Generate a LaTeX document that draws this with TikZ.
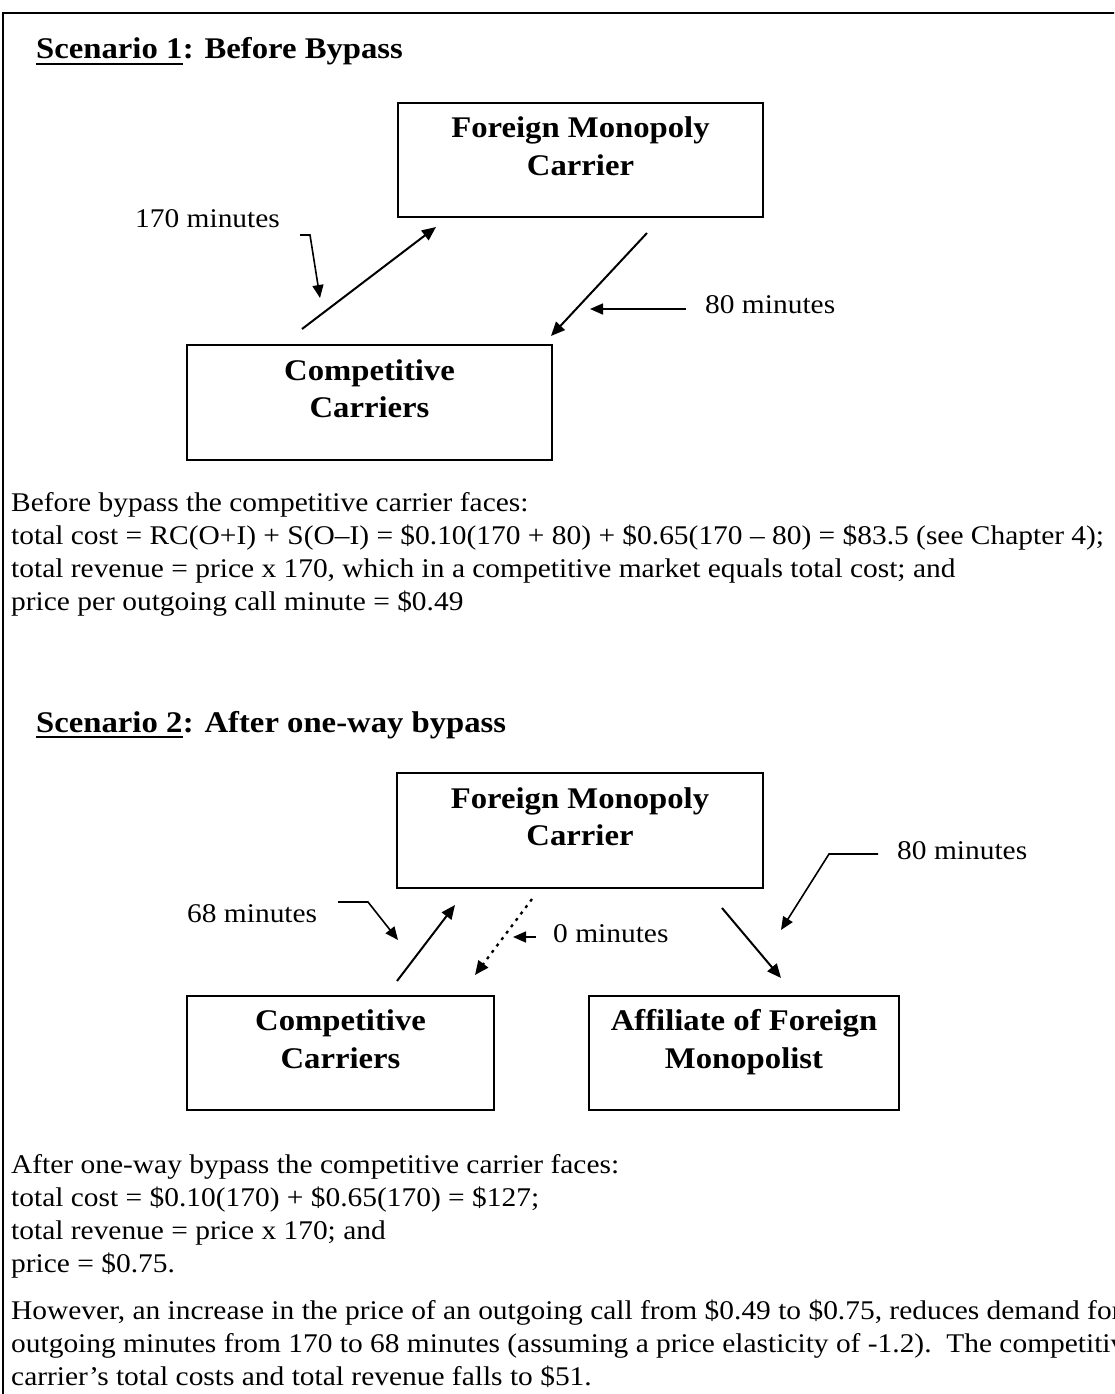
\documentclass[tikz,border=0pt]{standalone}
\usepackage{fontspec}
\setmainfont{Liberation Serif}[FakeStretch=1.09]
\usetikzlibrary{arrows.meta}
\tikzset{
  framestyle/.style={line width=2.5pt},
  box/.style={draw, line width=2pt, inner sep=0pt},
  bt/.style={font=\fontsize{30}{37}\selectfont\bfseries, anchor=base, inner sep=0pt},
  ttl/.style={font=\fontsize{30}{37}\selectfont\bfseries, anchor=base west, inner sep=0pt},
  uline/.style={line width=2.6pt},
  lbl/.style={font=\fontsize{27}{33}\selectfont\frenchspacing, anchor=base west, inner sep=0pt},
  arr/.style={line width=2pt, -{Triangle[length=14pt,width=12pt]}},
  dotarr/.style={line width=2.3pt, dash pattern=on 3pt off 5pt, -{Triangle[length=14pt,width=12pt]}},
  leader/.style={line width=1.6pt, -{Triangle[length=13pt,width=11pt]}}
}
\begin{document}
\begin{tikzpicture}[x=1pt,y=-1pt]
\useasboundingbox (0,0) rectangle (1114,1394);
\clip (0,0) rectangle (1114,1394);
\fill[white] (0,0) rectangle (1114,1394);
\draw[framestyle] (3,1400) -- (3,13) -- (1120,13);

% ---------------- Scenario 1 ----------------
\node[ttl] (t1a) at (36,59) {Scenario 1};
\node[ttl] (t1b) at (t1a.base east) {: Before Bypass};
\draw[uline] ([yshift=-5pt]t1a.base west) -- ([yshift=-5pt]t1a.base east);

\node[box, minimum width=365pt, minimum height=114pt] (fmc1) at (580.5,160) {};
\node[bt] (fmc1a) at (580.5,138) {Foreign Monopoly};
\node[bt] (fmc1b) at (580.5,175) {Carrier};

\node[box, minimum width=365pt, minimum height=115pt] (cc1) at (369.5,402.5) {};
\node[bt] (cc1a) at (369.5,380) {Competitive};
\node[bt] (cc1b) at (369.5,417) {Carriers};

\coordinate (u1s) at (302,329);
\coordinate (u1e) at (436,227);
\coordinate (d1s) at (647,233);
\coordinate (d1e) at (551,336);
\draw[arr] (u1s) -- (u1e);
\draw[arr] (d1s) -- (d1e);

\node[lbl] (l170) at (135,227) {170 minutes};
\coordinate (l170a) at (300,235);
\coordinate (l170b) at (310,235);
\coordinate (l170c) at (320,298);
\draw[leader] (l170a) -- (l170b) -- (l170c);

\node[lbl] (l80a) at (705,313) {80 minutes};
\coordinate (l80s) at (686,309);
\coordinate (l80e) at (590,309);
\draw[leader] (l80s) -- (l80e);

% paragraph 1
\node[lbl] (p1a) at (11,511) {Before bypass the competitive carrier faces:};
\node[lbl] (p1b) at (11,544) {total cost = RC(O+I) + S(O–I) = \$0.10(170 + 80) + \$0.65(170 – 80) = \$83.5 (see Chapter 4);};
\node[lbl] (p1c) at (11,577) {total revenue = price x 170, which in a competitive market equals total cost; and};
\node[lbl] (p1d) at (11,610) {price per outgoing call minute = \$0.49};

% ---------------- Scenario 2 ----------------
\node[ttl] (t2a) at (36,732) {Scenario 2};
\node[ttl] (t2b) at (t2a.base east) {: After one-way bypass};
\draw[uline] ([yshift=-5pt]t2a.base west) -- ([yshift=-5pt]t2a.base east);

\node[box, minimum width=366pt, minimum height=115pt] (fmc2) at (580,830.5) {};
\node[bt] (fmc2a) at (580,808) {Foreign Monopoly};
\node[bt] (fmc2b) at (580,845) {Carrier};

\node[box, minimum width=307pt, minimum height=114pt] (cc2) at (340.5,1053) {};
\node[bt] (cc2a) at (340.5,1030) {Competitive};
\node[bt] (cc2b) at (340.5,1068) {Carriers};

\node[box, minimum width=310pt, minimum height=114pt] (aff) at (744,1053) {};
\node[bt] (affa) at (744,1030) {Affiliate of Foreign};
\node[bt] (affb) at (744,1068) {Monopolist};

\coordinate (u2s) at (397,981);
\coordinate (u2e) at (455,905);
\coordinate (o2s) at (532,899);
\coordinate (o2e) at (475,975);
\coordinate (r2s) at (722,908);
\coordinate (r2e) at (781,978);
\draw[arr] (u2s) -- (u2e);
\draw[dotarr] (o2s) -- (o2e);
\draw[arr] (r2s) -- (r2e);

\node[lbl] (l68) at (187,922) {68 minutes};
\coordinate (l68a) at (338,902);
\coordinate (l68b) at (368,902);
\coordinate (l68c) at (398,940);
\draw[leader] (l68a) -- (l68b) -- (l68c);

\node[lbl] (l0) at (553,942) {0 minutes};
\coordinate (l0s) at (536,937);
\coordinate (l0e) at (513,937);
\draw[leader] (l0s) -- (l0e);

\node[lbl] (l80b) at (897,859) {80 minutes};
\coordinate (l80ba) at (878,854);
\coordinate (l80bb) at (829,854);
\coordinate (l80bc) at (781,930);
\draw[leader] (l80ba) -- (l80bb) -- (l80bc);

% paragraph 2
\node[lbl] (p2a) at (11,1173) {After one-way bypass the competitive carrier faces:};
\node[lbl] (p2b) at (11,1206) {total cost = \$0.10(170) + \$0.65(170) = \$127;};
\node[lbl] (p2c) at (11,1239) {total revenue = price x 170; and};
\node[lbl] (p2d) at (11,1272) {price = \$0.75.};
\node[lbl] (p2e) at (11,1319) {However, an increase in the price of an outgoing call from \$0.49 to \$0.75, reduces demand for};
\node[lbl] (p2f) at (11,1352) {outgoing minutes from 170 to 68 minutes (assuming a price elasticity of -1.2).\ \ The competitive};
\node[lbl] (p2g) at (11,1385) {carrier’s total costs and total revenue falls to \$51.};
\end{tikzpicture}
\end{document}
